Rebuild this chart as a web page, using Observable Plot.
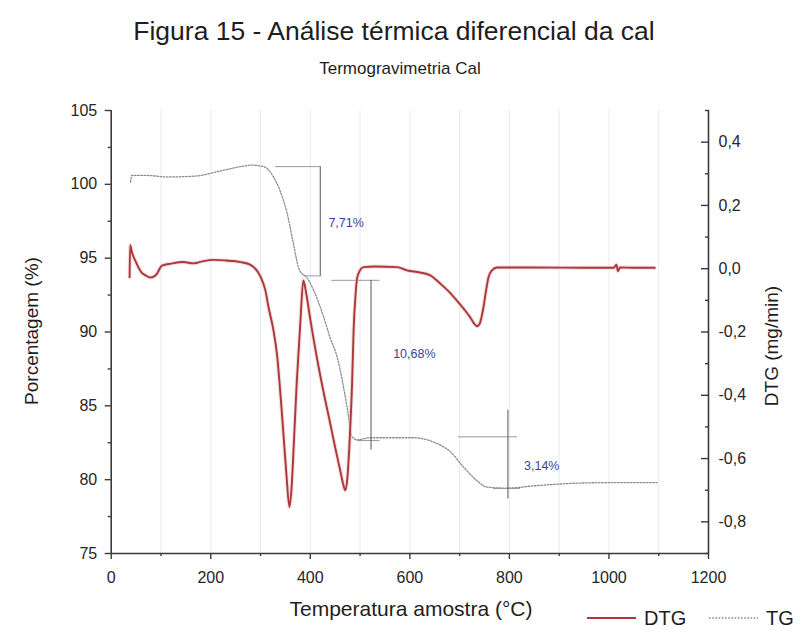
<!DOCTYPE html>
<html><head><meta charset="utf-8">
<script src="https://cdn.jsdelivr.net/npm/d3@7"></script>
<script src="https://cdn.jsdelivr.net/npm/@observablehq/plot@0.6"></script>
<style>
body{margin:0;background:#fff;font-family:"Liberation Sans",Arial,sans-serif;}
#wrap{position:relative;width:811px;height:634px;overflow:hidden;background:#fff;}
#wrap svg{position:absolute;left:0;top:0;}
.t{position:absolute;white-space:nowrap;color:#1e1e1e;transform:translate(-50%,-50%);line-height:1;}
.rot{transform:translate(-50%,-50%) rotate(-90deg);}
.leg{position:absolute;white-space:nowrap;color:#1e1e1e;font-size:20px;line-height:1;transform:translateY(-50%);}
</style></head><body>
<div id="wrap"></div>
<script>
// ---- data ----
const tgTemp = [39,41,72,112,166,219,260,283,306,326,340,353,366,376,385,390,407,427,440,454,474,484,494,520,607,647,681,708,734,755,795,855,942,1000,1097];
const tgPct  = [100.15,100.6,100.6,100.5,100.55,100.9,101.2,101.3,101.2,100.5,99.5,98.1,96.0,94.4,93.9,93.8,92.8,91.0,89.6,88.3,84.9,82.9,82.7,82.84,82.84,82.55,81.9,80.85,79.95,79.5,79.43,79.6,79.77,79.8,79.8];

const dtgTemp = [37,38,42,50,60,69,79,90,102,120,145,166,185,206,230,260,280,300,310,316,326,333,343,352,358,362,367,373,380,386,392,400,413,426,440,450,460,466,470,474,480,484,487,491,494,500,507,530,575,594,620,641,661,680,694,710,721,730,735,740,748,753,758,765,775,850,950,1010,1015,1018,1022,1050,1092];
const dtgVal  = [-0.027,0.074,0.05,0.02,-0.01,-0.021,-0.028,-0.02,0.010,0.016,0.021,0.017,0.024,0.028,0.026,0.021,0.012,-0.025,-0.07,-0.121,-0.195,-0.27,-0.457,-0.65,-0.753,-0.70,-0.55,-0.353,-0.17,-0.037,-0.08,-0.16,-0.279,-0.385,-0.489,-0.565,-0.637,-0.68,-0.70,-0.67,-0.511,-0.36,-0.195,-0.08,-0.03,-0.005,0.005,0.007,0.005,-0.005,-0.012,-0.021,-0.047,-0.075,-0.100,-0.13,-0.153,-0.175,-0.182,-0.175,-0.121,-0.07,-0.027,-0.005,0.004,0.004,0.003,0.003,0.013,-0.008,0.004,0.003,0.003];

// step annotations (temperature, percentage)
const hRuleY  = [101.2, 93.8, 93.5, 82.65, 82.9, 79.4];
const hRuleX1 = [330, 387, 443, 494, 697, 768];
const hRuleX2 = [420, 424, 540, 540, 816, 822];
const vRuleX  = [420, 522, 797];
const vRuleY1 = [93.8, 82.0, 78.7];
const vRuleY2 = [101.2, 93.5, 84.7];
const stepLabels = ["7,71%", "10,68%", "3,14%"];
const stepLabelT = [472, 609, 865];
const stepLabelY = [97.4, 88.5, 80.9];

// axes
const leftMajor = [75,80,85,90,95,100,105];
const leftMinor = [77.5,82.5,87.5,92.5,97.5,102.5];
const xMajor = [0,200,400,600,800,1000,1200];
const xMinor = [100,300,500,700,900,1100];
const dtgMajor = [-0.8,-0.6,-0.4,-0.2,0.0,0.2,0.4];
const dtgMinor = [-0.9,-0.7,-0.5,-0.3,-0.1,0.1,0.3,0.5];
const gridT = [100,200,300,400,500,600,700,800,900,1000,1100];
const dtgDomain = [-0.9, 0.5];
const leftDomain = [75, 105];

// ---- build ----
const toLeft = r => leftDomain[0] + (r - dtgDomain[0]) * (leftDomain[1]-leftDomain[0]) / (dtgDomain[1]-dtgDomain[0]);
const fromLeft = L => dtgDomain[0] + (L - leftDomain[0]) * (dtgDomain[1]-dtgDomain[0]) / (leftDomain[1]-leftDomain[0]);
const fmtDtg = L => { const v = Math.round(fromLeft(L)*10)/10; return (v < 0 ? "-" : "") + Math.abs(v).toFixed(1).replace(".", ","); };

const tg = tgTemp.map((T,i) => ({T, v: tgPct[i]}));
const dtg = dtgTemp.map((T,i) => ({T, r: dtgVal[i]}));
const hRules = hRuleY.map((y,i) => ({y, x1: hRuleX1[i], x2: hRuleX2[i]}));
const vRules = vRuleX.map((x,i) => ({x, y1: vRuleY1[i], y2: vRuleY2[i]}));
const labels = stepLabels.map((s,i) => ({s, T: stepLabelT[i], v: stepLabelY[i]}));

const axisColor = "#3a3a3a";
const chart = Plot.plot({
  width: 811, height: 634,
  marginLeft: 110.7, marginRight: 103, marginTop: 110, marginBottom: 81,
  style: {fontFamily: "Liberation Sans, Arial, sans-serif", fontSize: "16px", color: "#262626", background: "transparent", overflow: "visible"},
  x: {domain: [0, 1200]},
  y: {domain: leftDomain},
  marks: [
    Plot.ruleX(gridT, {stroke: "#e6ecf3", strokeWidth: 1}),
    // TG curve
    Plot.line(tg, {x: "T", y: "v", stroke: "#8c8c8c", strokeWidth: 1.3, strokeDasharray: "1.6 1.6", curve: "monotone-x"}),
    // annotations
    Plot.ruleY(hRules, {y: "y", x1: "x1", x2: "x2", stroke: "#9a9a9a", strokeWidth: 1}),
    Plot.ruleX(vRules, {x: "x", y1: "y1", y2: "y2", stroke: "#555", strokeWidth: 1}),
    // DTG curve (halo + line)
    Plot.line(dtg, {x: "T", y: d => toLeft(d.r), stroke: "#f2c4c4", strokeWidth: 4, strokeOpacity: 0.6, curve: "monotone-x"}),
    Plot.line(dtg, {x: "T", y: d => toLeft(d.r), stroke: "#a8393d", strokeWidth: 1.9, curve: "monotone-x"}),
    Plot.text(labels, {x: "T", y: "v", text: "s", fill: "#3b3f96", fontSize: 12.5}),
    // axis lines
    Plot.ruleX([0, 1200], {stroke: axisColor, strokeWidth: 1.6}),
    Plot.ruleY([75], {stroke: axisColor, strokeWidth: 1.6}),
    // left axis
    Plot.axisY(leftMajor, {anchor: "left", tickSize: 6, tickPadding: 8, stroke: axisColor, strokeWidth: 1.4, fill: "#262626", tickFormat: d => String(d), label: null}),
    Plot.axisY(leftMinor, {anchor: "left", tickSize: 3, stroke: axisColor, strokeWidth: 1.4, fill: "none", label: null}),
    // bottom axis
    Plot.axisX(xMajor, {anchor: "bottom", tickSize: 6, tickPadding: 12, stroke: axisColor, strokeWidth: 1.4, fill: "#262626", tickFormat: d => String(d), label: null}),
    Plot.axisX(xMinor, {anchor: "bottom", tickSize: 3, stroke: axisColor, strokeWidth: 1.4, fill: "none", label: null}),
    // right (DTG) axis, ticks pointing inward
    Plot.axisY(dtgMajor.map(toLeft), {anchor: "right", tickSize: 8, dx: -8, stroke: axisColor, strokeWidth: 1.4, fill: "none", label: null}),
    Plot.axisY(dtgMinor.map(toLeft), {anchor: "right", tickSize: 4, dx: -4, stroke: axisColor, strokeWidth: 1.4, fill: "none", label: null}),
    Plot.axisY(dtgMajor.map(toLeft), {anchor: "right", tickSize: 0, tickPadding: 10, fill: "#262626", tickFormat: fmtDtg, label: null})
  ]
});

const wrap = document.getElementById("wrap");
wrap.appendChild(chart);

function addText(txt, x, y, size, cls) {
  const d = document.createElement("div");
  d.className = "t" + (cls ? " " + cls : "");
  d.textContent = txt;
  d.style.left = x + "px"; d.style.top = y + "px"; d.style.fontSize = size + "px";
  wrap.appendChild(d);
}
addText("Figura 15 - Análise térmica diferencial da cal", 394, 31, 26.5);
addText("Termogravimetria Cal", 400, 68, 17);
addText("Temperatura amostra (°C)", 411, 608, 21);
addText("Porcentagem (%)", 31, 331, 19, "rot");
addText("DTG (mg/min)", 771, 346, 19, "rot");

// legend
const legendItems = [
  {name: "DTG", x: 587, color: "#a8393d", dash: null, w: 1.9},
  {name: "TG", x: 709, color: "#8c8c8c", dash: "1.6 1.6", w: 1.3}
];
legendItems.forEach(it => {
  const ns = "http://www.w3.org/2000/svg";
  const s = document.createElementNS(ns, "svg");
  s.setAttribute("width", 50); s.setAttribute("height", 10);
  s.style.position = "absolute"; s.style.left = it.x + "px"; s.style.top = "613px";
  const l = document.createElementNS(ns, "line");
  l.setAttribute("x1", 0); l.setAttribute("x2", 49); l.setAttribute("y1", 5); l.setAttribute("y2", 5);
  l.setAttribute("stroke", it.color); l.setAttribute("stroke-width", it.w);
  if (it.dash) l.setAttribute("stroke-dasharray", it.dash);
  s.appendChild(l);
  wrap.appendChild(s);
  const d = document.createElement("div");
  d.className = "leg"; d.textContent = it.name;
  d.style.left = (it.x + 57) + "px"; d.style.top = "618px";
  wrap.appendChild(d);
});
</script>
</body></html>
